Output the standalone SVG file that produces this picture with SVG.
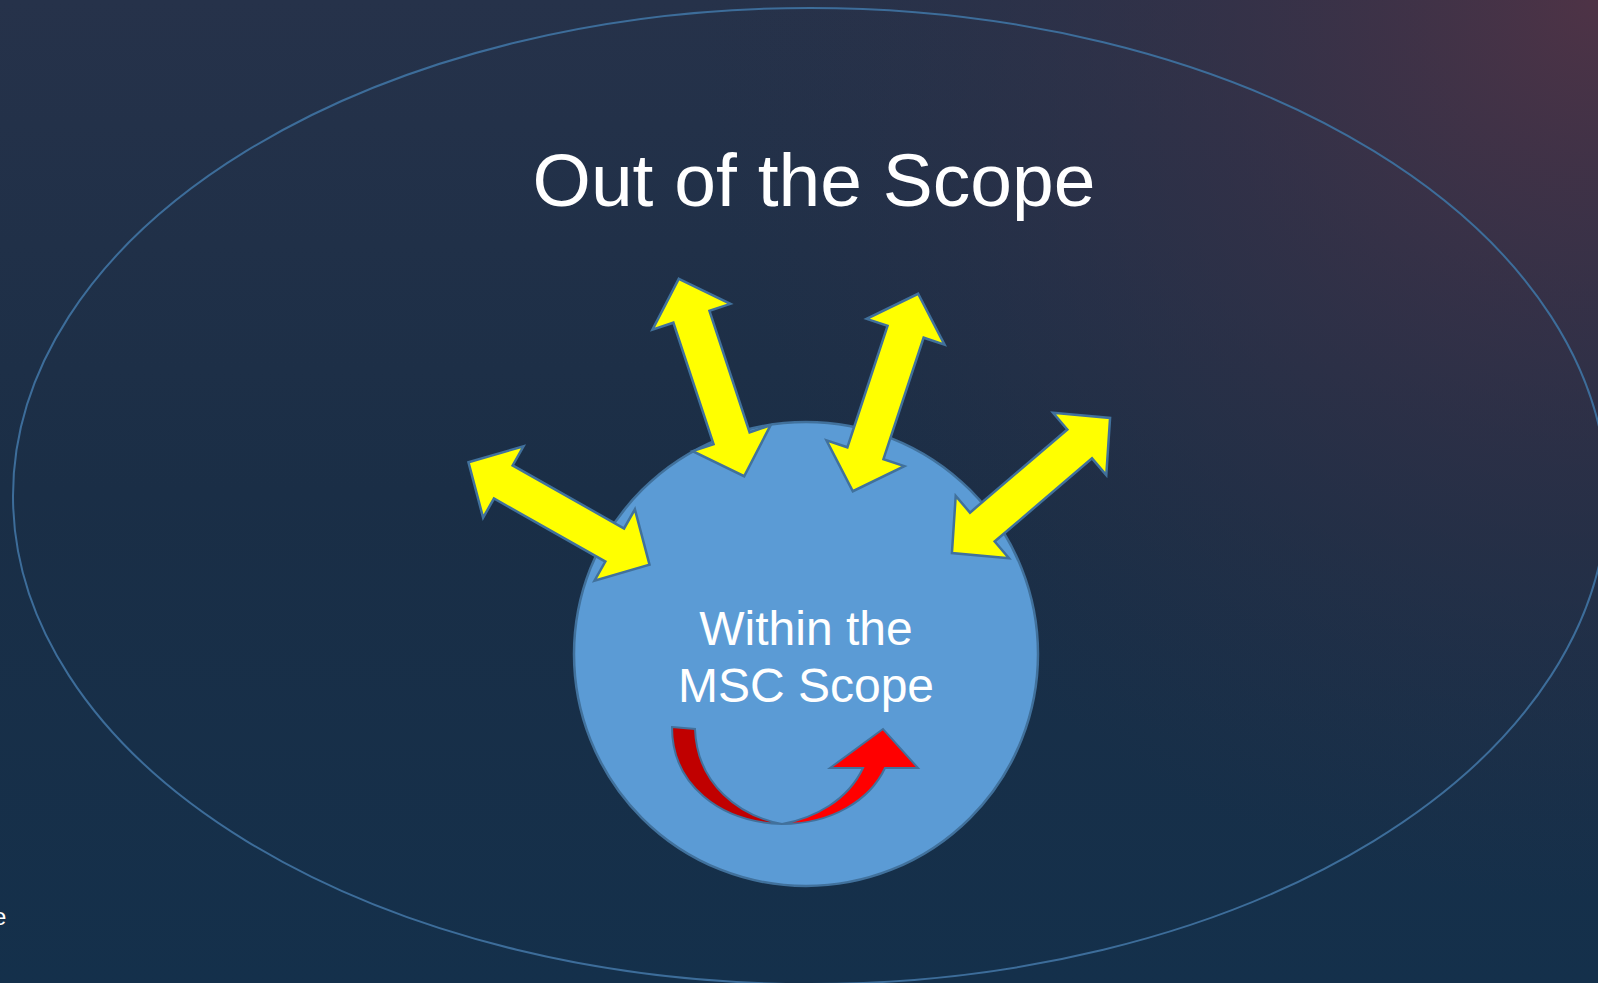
<svg xmlns="http://www.w3.org/2000/svg" width="1598" height="983" viewBox="0 0 1598 983">
  <defs>
    <linearGradient id="bg" x1="0" y1="0" x2="0" y2="1">
      <stop offset="0" stop-color="#26324a"/>
      <stop offset="0.5" stop-color="#1a2e46"/>
      <stop offset="1" stop-color="#14304b"/>
    </linearGradient>
    <radialGradient id="glow" cx="1598" cy="0" r="900" gradientUnits="userSpaceOnUse">
      <stop offset="0" stop-color="#4e3346" stop-opacity="1"/>
      <stop offset="0.45" stop-color="#3a3147" stop-opacity="0.6"/>
      <stop offset="1" stop-color="#2a3047" stop-opacity="0"/>
    </radialGradient>
    <path id="dbl" d="M -104 0 L -64 -41 L -64 -19 L 64 -19 L 64 -41 L 104 0 L 64 41 L 64 19 L -64 19 L -64 41 Z"/>
  </defs>
  <style>
    .title { font-family: "Liberation Sans", Arial, sans-serif; fill: #ffffff; }
    .yarrow { fill: #ffff00; stroke: #41719c; stroke-width: 2.5; stroke-linejoin: miter; }
    .red { stroke: #41719c; stroke-width: 2; stroke-linejoin: miter; }
  </style>
  <rect x="0" y="0" width="1598" height="983" fill="url(#bg)"/>
  <rect x="0" y="0" width="1598" height="983" fill="url(#glow)"/>

  <g id="outer-scope">
    <ellipse cx="810" cy="496" rx="797" ry="488" fill="none" stroke="#3d6d9a" stroke-width="2"/>
    <text class="title" x="814" y="206" font-size="75" text-anchor="middle">Out of the Scope</text>
  </g>

  <g id="msc-scope">
    <circle cx="806" cy="654" r="232" fill="#5b9bd5" stroke="#41719c" stroke-width="2.5"/>
    <text class="title" x="806" y="645" font-size="48" text-anchor="middle">Within the</text>
    <text class="title" x="806" y="702" font-size="48" text-anchor="middle">MSC Scope</text>
  </g>

  <g id="connectors">
    <use href="#dbl" class="yarrow" transform="translate(559 513.5) rotate(29.5)"/>
    <use href="#dbl" class="yarrow" transform="translate(711.5 377.5) rotate(71.7)"/>
    <use href="#dbl" class="yarrow" transform="translate(885.5 392.5) rotate(108.3)"/>
    <use href="#dbl" class="yarrow" transform="translate(1031 485.5) rotate(-40.5)"/>
    <g id="internal-arrow">
      <path class="red" fill="#c00000" d="M 672 727 L 695 729 C 697 785 740 816 782 824 C 720 822 672 785 672 727 Z"/>
      <path class="red" fill="#ff0000" d="M 782 824 C 832 824 870 800 885 768 L 918 768 L 883 729 L 830 768 L 863 768 C 848 800 815 818 782 824 Z"/>
    </g>
  </g>

  <text class="title" x="-7" y="925" font-size="24" fill="#dddddd">e</text>
</svg>
